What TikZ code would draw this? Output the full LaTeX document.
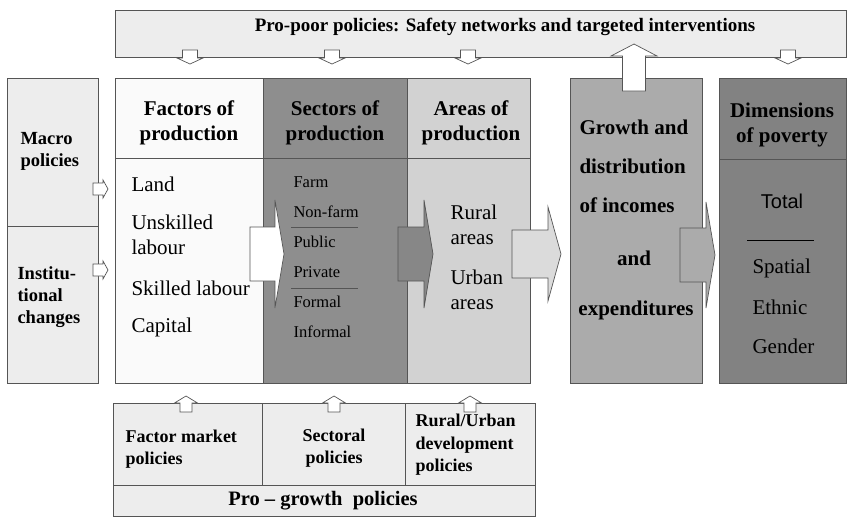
\documentclass[tikz,border=0pt]{standalone}
\usepackage{fontspec}
\setmainfont{Liberation Serif}
\newfontfamily\sansfnt{Liberation Sans}
\definecolor{paleg}{HTML}{EDEDED}
\definecolor{factg}{HTML}{FAFAFA}
\definecolor{sectg}{HTML}{8E8E8E}
\definecolor{areag}{HTML}{D2D2D2}
\definecolor{growg}{HTML}{ABABAB}
\definecolor{dimg}{HTML}{828282}
\definecolor{lineg}{HTML}{555555}
% block arrows: fill, from, head base, tip, centre, shaft half, head half
\newcommand{\rarr}[7]{\draw[blk,fill=#1] (#2,#5-#6) -- (#3,#5-#6) -- (#3,#5-#7) -- (#4,#5) -- (#3,#5+#7) -- (#3,#5+#6) -- (#2,#5+#6) -- cycle;}
\newcommand{\varr}[7]{\draw[blk,fill=#1] (#5-#6,#2) -- (#5-#6,#3) -- (#5-#7,#3) -- (#5,#4) -- (#5+#7,#3) -- (#5+#6,#3) -- (#5+#6,#2) -- cycle;}
\begin{document}
\begin{tikzpicture}[x=1pt,y=-1pt,
    blk/.style={draw=lineg,line width=0.7pt},
    cell/.style={blk,anchor=north west,inner sep=0pt},
    head/.style={font=\fontsize{21}{25}\selectfont\bfseries,align=center},
    side/.style={font=\fontsize{18.5}{22}\selectfont\bfseries,align=left},
    item/.style={font=\fontsize{21}{25}\selectfont,anchor=west,align=left},
    small/.style={font=\fontsize{16.5}{20}\selectfont,anchor=west},
    pol/.style={font=\fontsize{18}{22.5}\selectfont\bfseries,align=left}]
  \useasboundingbox (0,0) rectangle (848,517);
  % boxes
  \node[cell,fill=paleg,minimum width=731,minimum height=47] (poor) at (115,10) {};
  \node[cell,fill=paleg,minimum width=91,minimum height=148] (macro) at (7,78) {};
  \node[cell,fill=paleg,minimum width=91,minimum height=157] (inst) at (7,226) {};
  \node[cell,fill=factg,minimum width=148,minimum height=80] (facth) at (115,78) {};
  \node[cell,fill=factg,minimum width=148,minimum height=225] (factb) at (115,158) {};
  \node[cell,fill=sectg,minimum width=144,minimum height=80] (secth) at (263,78) {};
  \node[cell,fill=sectg,minimum width=144,minimum height=225] (sectb) at (263,158) {};
  \node[cell,fill=areag,minimum width=123,minimum height=80] (areah) at (407,78) {};
  \node[cell,fill=areag,minimum width=123,minimum height=225] (areab) at (407,158) {};
  \node[cell,fill=growg,minimum width=132,minimum height=305] (grow) at (570,78) {};
  \node[cell,fill=dimg,minimum width=127,minimum height=81] (dimh) at (719,78) {};
  \node[cell,fill=dimg,minimum width=127,minimum height=224] (dimb) at (719,159) {};
  \node[cell,fill=paleg,minimum width=149,minimum height=82] (fmp) at (113,403) {};
  \node[cell,fill=paleg,minimum width=143,minimum height=82] (secp) at (262,403) {};
  \node[cell,fill=paleg,minimum width=130,minimum height=82] (rup) at (405,403) {};
  \node[cell,fill=paleg,minimum width=422,minimum height=31] (grop) at (113,485) {};
  % arrows
  \varr{white}{50}{58}{64}{190}{7.5}{13}
  \varr{white}{50}{58}{64}{332}{7.5}{13}
  \varr{white}{50}{58}{64}{468}{7.5}{13}
  \varr{white}{50}{58}{64}{788}{7.5}{13}
  \varr{white}{91}{56}{44}{634}{11.5}{23}
  \rarr{white}{93}{103}{108}{189}{6}{9}
  \rarr{white}{93}{103}{108}{270}{6}{9}
  \rarr{white}{250}{275}{284}{254}{27}{54}
  \rarr{sectg!95!black}{398}{424}{433}{254}{27}{54}
  \rarr{areag!80!white}{512}{548}{561}{254}{24}{47}
  \rarr{growg}{680}{706}{715}{255}{27}{53}
  \varr{white}{412}{403}{396}{186}{6}{11.5}
  \varr{white}{412}{403}{396}{334}{6}{11.5}
  \varr{white}{412}{403}{396}{470}{6}{11.5}
  % texts
  \node[font=\fontsize{19}{23}\selectfont\bfseries] (poort) at (505,27) {Pro-poor policies: Safety networks and targeted interventions};
  \node[side,anchor=west] (macrot) at (17,151) {Macro\\policies};
  \node[side,anchor=west] (instt) at (14,297) {Institu-\\tional\\changes};
  \node[head] (factt) at (189,123) {Factors of\\production};
  \node[head] (sectt) at (335,123) {Sectors of\\production};
  \node[head] (areat) at (471,123) {Areas of\\production};
  \node[head] (dimt) at (782,125) {Dimensions\\of poverty};
  \node[item] (land) at (128,184) {Land};
  \node[item] (unsk) at (128,235) {Unskilled\\labour};
  \node[item] (skil) at (128,288) {Skilled labour};
  \node[item] (capt) at (128,327) {Capital};
  \node[small] (farm) at (290,182) {Farm};
  \node[small] (nonf) at (290,212) {Non-farm};
  \node[small] (publ) at (290,242) {Public};
  \node[small] (priv) at (290,272) {Private};
  \node[small] (form) at (290,302) {Formal};
  \node[small] (info) at (290,332) {Informal};
  \draw[lineg,line width=0.8pt] (291,227) -- (358,227);
  \draw[lineg,line width=0.8pt] (291,288) -- (358,288);
  \node[item] (rural) at (447,225) {Rural\\areas};
  \node[item] (urban) at (447,290) {Urban\\areas};
  \node[font=\fontsize{21}{39}\selectfont\bfseries,anchor=north west,align=left] (growt) at (576,116) {Growth and\\distribution\\of incomes};
  \node[font=\fontsize{21}{25}\selectfont\bfseries] (andt) at (634,258) {and};
  \node[font=\fontsize{21}{25}\selectfont\bfseries] (expt) at (636,310) {expenditures};
  \node[font=\fontsize{20}{24}\selectfont\sansfnt] (total) at (782,201) {Total};
  \draw[black,line width=0.8pt] (747,240) -- (814,240);
  \node[item] (spat) at (749,268) {Spatial};
  \node[item] (ethn) at (749,307) {Ethnic};
  \node[item] (gend) at (749,346) {Gender};
  \node[pol,anchor=west] (fmpt) at (122,449) {Factor market\\policies};
  \node[pol,align=center] (secpt) at (334,448) {Sectoral\\policies};
  \node[pol,anchor=west] (rupt) at (412,445) {Rural/Urban\\development\\policies};
  \node[font=\fontsize{20.5}{24}\selectfont\bfseries] (gropt) at (323,501) {Pro -- growth\ \ policies};
\end{tikzpicture}
\end{document}
